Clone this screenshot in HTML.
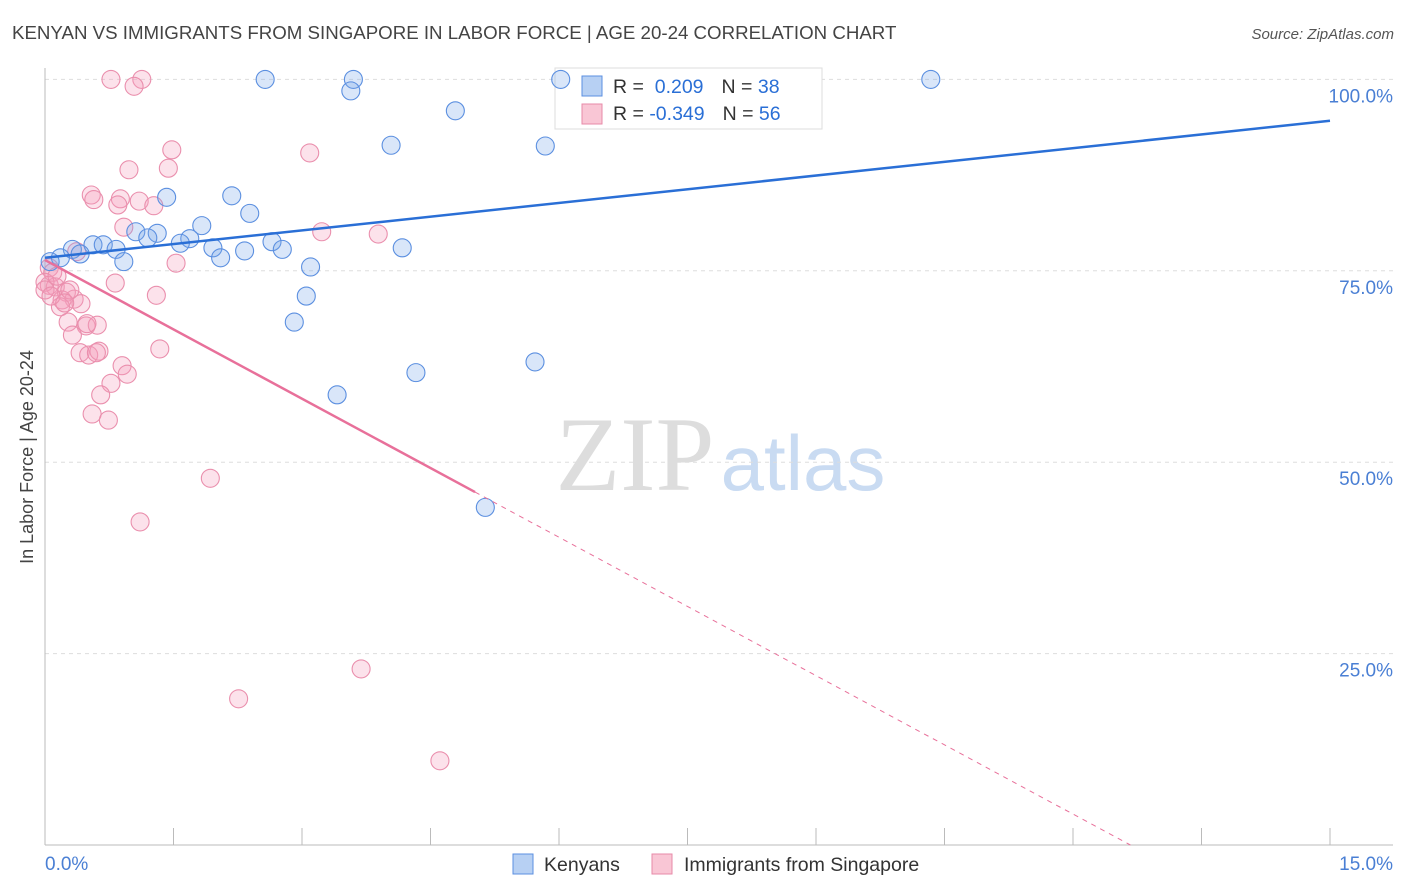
<!DOCTYPE html>
<html><head><meta charset="utf-8"><style>
body{margin:0;background:#fff;font-family:"Liberation Sans",sans-serif;}
svg{display:block}
</style></head><body>
<svg id="chart" width="1406" height="892">
<text x="12" y="39" font-size="18.7" fill="#444">KENYAN VS IMMIGRANTS FROM SINGAPORE IN LABOR FORCE | AGE 20-24 CORRELATION CHART</text>
<text x="1394" y="39" font-size="15" fill="#555" text-anchor="end" font-style="italic">Source: ZipAtlas.com</text>
<text x="635" y="490" font-size="106" fill="#ddd" font-family="Liberation Serif,serif" text-anchor="middle">ZIP</text>
<text x="803" y="490" font-size="78" fill="#c9dbf2" text-anchor="middle">atlas</text>
<g id="grid"></g><g id="axes"></g>
<g>
<rect x="555" y="68" width="267" height="61" fill="#fff" stroke="#ddd"/>
<rect x="582" y="76" width="20" height="20" fill="#b7d0f3" stroke="#5b8fe0"/>
<rect x="582" y="104" width="20" height="20" fill="#f9c6d5" stroke="#e78aa8"/>
<text x="613" y="93" font-size="19.5" fill="#333">R = <tspan fill="#2a6fd6">&#160;0.209</tspan><tspan dx="18">N = </tspan><tspan fill="#2a6fd6">38</tspan></text>
<text x="613" y="120" font-size="19.5" fill="#333">R = <tspan fill="#2a6fd6">-0.349</tspan><tspan dx="18">N = </tspan><tspan fill="#2a6fd6">56</tspan></text>
</g>
<g id="pts"></g><g id="lines"></g>
<text x="33" y="457" font-size="18" fill="#444" text-anchor="middle" transform="rotate(-90 33 457)">In Labor Force | Age 20-24</text>
<g>
<rect x="513" y="854" width="20" height="20" fill="#b7d0f3" stroke="#5b8fe0"/>
<text x="544" y="871" font-size="19.5" fill="#333">Kenyans</text>
<rect x="652" y="854" width="20" height="20" fill="#f9c6d5" stroke="#e78aa8"/>
<text x="684" y="871" font-size="19.5" fill="#333">Immigrants from Singapore</text>
</g>
</svg>
<script>
const yTicks=[25,50,75,100];
const yTickLabels=["25.0%","50.0%","75.0%","100.0%"];
const xMin=0, xMax=15;
const kenX=[2.57,3.60,3.57,6.02,10.34,4.79,4.04,5.84,1.42,2.18,2.39,1.83,1.06,1.31,1.20,1.69,1.58,0.32,0.56,0.68,0.83,0.41,0.18,0.06,1.96,2.33,2.65,2.77,2.05,0.92,3.10,4.17,3.05,2.91,4.33,5.72,3.41,5.14];
const kenY=[100,100,98.5,100,100,95.9,91.4,91.3,84.6,84.8,82.5,80.9,80.1,79.9,79.3,79.2,78.6,77.8,78.4,78.4,77.8,77.2,76.7,76.2,78.0,77.6,78.8,77.8,76.7,76.2,75.5,78.0,71.7,68.3,61.7,63.1,58.8,44.1];
const sgX=[0.77,1.13,1.04,1.48,3.09,1.44,0.98,0.54,0.57,0.88,0.85,1.10,1.27,0.92,3.23,3.89,1.53,0.37,0.05,0.09,0.05,0.12,0.25,0.34,0.20,0.42,0.18,0.27,0.48,0.61,0.32,1.30,0.82,0.0,1.34,0.41,0.51,0.63,0.60,0.90,0.96,0.77,0.65,0.55,0.74,1.93,1.11,3.69,2.26,4.61,0.0,0.29,0.14,0.49,0.07,0.23];
const sgY=[100,100,99.1,90.8,90.4,88.4,88.2,84.9,84.3,84.4,83.6,84.1,83.5,80.7,80.1,79.8,76.0,77.5,75.4,74.8,73.1,72.9,72.2,71.3,71.2,70.7,70.3,68.3,67.8,67.9,66.6,71.8,73.4,73.5,64.8,64.3,64.0,64.5,64.3,62.6,61.5,60.3,58.8,56.3,55.5,47.9,42.2,23.0,19.1,11.0,72.5,72.5,74.3,68.1,71.7,70.8];
const kenTrend=[76.7,94.6];
const sgTrend=[76.4,46.1,0];
const sgTrendX=[0,5.02,12.67];
const X=v=>45+(v-xMin)/(xMax-xMin)*1285;
const Y=v=>845-v*7.656;
const NS="http://www.w3.org/2000/svg";
function mk(tag,attrs,parent){const e=document.createElementNS(NS,tag);for(const k in attrs)e.setAttribute(k,attrs[k]);parent.appendChild(e);return e;}
const grid=document.getElementById('grid'),axes=document.getElementById('axes'),pts=document.getElementById('pts'),lines=document.getElementById('lines');
yTicks.forEach((t,i)=>{
 const l=mk('line',{x1:45,x2:1393,y1:Y(t),y2:Y(t),stroke:'#ddd','stroke-dasharray':'4,4'},grid);
 
 
 const tx=mk('text',{x:1393,y:Y(t)+23,'font-size':19,fill:'#4a7fd4','text-anchor':'end'},grid);
 tx.textContent=yTickLabels[i];
 
 
});
mk('line',{x1:45,x2:45,y1:68,y2:845,stroke:'#bbb'},axes);
mk('line',{x1:45,x2:1393,y1:845,y2:845,stroke:'#bbb'},axes);
for(let i=0;i<=10;i++){mk('line',{x1:X(i*1.5),x2:X(i*1.5),y1:828,y2:845,stroke:'#bbb'},axes);}
const xl=mk('text',{x:45,y:870,'font-size':19,fill:'#4a7fd4'},axes);xl.textContent='0.0%';


const xr=mk('text',{x:1393,y:870,'font-size':19,fill:'#4a7fd4','text-anchor':'end'},axes);xr.textContent='15.0%';


sgX.forEach((x,i)=>{const c=mk('circle',{cx:X(x),cy:Y(sgY[i]),r:9,fill:'rgba(244,160,188,0.3)',stroke:'#ea8fad','stroke-width':1.1},pts);
 
 });
kenX.forEach((x,i)=>{const c=mk('circle',{cx:X(x),cy:Y(kenY[i]),r:9,fill:'rgba(120,165,232,0.28)',stroke:'#5b8fe0','stroke-width':1.1},pts);
 
 });
const kl=mk('line',{x1:X(0),y1:Y(kenTrend[0]),x2:X(15),y2:Y(kenTrend[1]),stroke:'#2a6fd6','stroke-width':2.5},lines);


const sl=mk('line',{x1:X(sgTrendX[0]),y1:Y(sgTrend[0]),x2:X(sgTrendX[1]),y2:Y(sgTrend[1]),stroke:'#e8709a','stroke-width':2.5},lines);


const sd=mk('line',{x1:X(sgTrendX[1]),y1:Y(sgTrend[1]),x2:X(sgTrendX[2]),y2:Y(sgTrend[2]),stroke:'#e8709a','stroke-width':1,'stroke-dasharray':'5,5'},lines);


</script>
</body></html>
